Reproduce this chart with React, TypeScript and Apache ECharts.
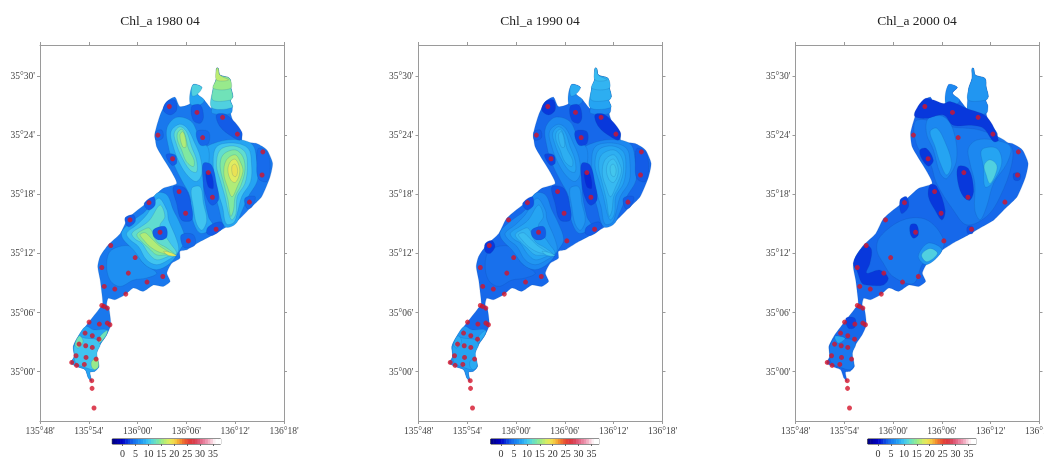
import React, { useEffect, useRef } from "react";
import * as echarts from "echarts";

// Axis units: x = arc-minutes east of 135°48', y = arc-minutes north of 35°00'.
type P = [number, number];
const titles = ["Chl_a 1980 04", "Chl_a 1990 04", "Chl_a 2000 04"];
const yTicks = [0, 6, 12, 18, 24, 30];
const barTicks = [0, 5, 10, 15, 20, 25, 30, 35];
const barCells = [-4,-3,-2,-1,0,1,2,3,4,5,6,7,8,9,10,11,12,13,14,15,16,17,18,19,20,21,22,23,24,25,26,27,28,29,30,31,32,33,34,35,36,37];
const scaleValues = [-4, 0, 2, 4, 6, 8, 10, 12, 14, 16, 18, 20, 22, 24, 26, 28, 30, 33, 36, 38];
const scaleColors = ["#00007f", "#0000c8", "#0838dc", "#1668ea", "#1c88f0", "#25a4f2", "#40c4f0", "#60dcd0", "#80e8a0", "#b0ec78", "#e0ec60", "#f4d848", "#f4a030", "#ec6030", "#e03838", "#d84050", "#e06080", "#f0a0b8", "#ffffff", "#ffffff"];

const stations: P[] = [[15.9,26.9],[19.3,26.3],[22.45,25.8],[24.27,24.1],[20,23.75],[14.5,24],[16.3,21.6],[27.4,22.3],[27.3,19.95],[20.7,20.2],[21.2,17.7],[17.1,18.27],[13.4,17.15],[17.9,16.07],[25.75,17.2],[11.07,15.4],[14.76,14.15],[21.65,14.45],[18.24,13.27],[8.7,12.8],[11.7,11.58],[7.6,10.57],[10.86,10],[15.1,9.66],[13.16,9.09],[7.9,8.65],[9.2,8.38],[10.55,7.87],[7.6,6.72],[7.87,6.62],[8.28,6.45],[6.03,5.03],[7.3,4.83],[8.28,4.93],[8.6,4.76],[5.54,3.92],[6.43,3.65],[7.26,3.3],[4.8,2.8],[5.62,2.63],[6.43,2.46],[4.43,1.62],[5.66,1.45],[6.9,1.28],[3.9,0.94],[4.5,0.64],[5.45,0.74],[6.36,-0.91],[6.4,-1.69],[6.64,-3.68]];

const OUTLINE: P[] = [[21.9,30.77],[22.1,30.1],[23.3,29.75],[23.45,28.85],[23.7,27.9],[23.4,27.55],[23.65,26.95],[23.45,26.2],[23.8,25.35],[24.8,24.2],[24.9,23.35],[26.65,23.15],[27.9,22.5],[28.6,21.15],[28.3,19.8],[27.25,17.75],[25.85,16.6],[24.4,15.4],[22.95,14.7],[21.3,13.9],[19.7,13.2],[19.05,12.87],[18.05,12.36],[17.2,12.2],[17.2,11.5],[16.2,11],[15.6,10],[16,9.15],[15.15,8.65],[13.95,8.8],[12.7,8.15],[11.5,8.5],[10.45,7.8],[9.2,7.3],[8.4,7.45],[8.2,6.8],[8.5,6.3],[8.7,4.75],[8.2,3.75],[7.4,2.75],[6.9,1.7],[7.25,0.55],[6.75,0.05],[6.15,-0.05],[6.35,-0.98],[5.95,-0.65],[5.55,0.2],[4.7,0.48],[3.8,0.88],[4.2,1.55],[4.1,2.56],[4.7,3.58],[5.75,4.76],[7.2,6.28],[7.7,6.9],[7.6,7.97],[7.4,9.3],[7.1,10.67],[7.4,11.7],[8.4,12.87],[9.85,14],[10.85,15.57],[13.3,17.25],[15.15,18.6],[16.8,19.1],[16,20.5],[14.35,22.8],[14.15,24.2],[14.75,26],[15.6,27.4],[16.6,27.85],[17.2,26.9],[18.45,27.2],[18.8,29.1],[19.9,28.85],[19.3,28.25],[20.2,27.55],[21.1,26.7],[21.3,28.75],[21.7,29.75],[21.7,30.77]];

const rings: Record<string, P[]> = {
  B8: [[21.3,23.15],[23.8,23.55],[26.05,23.1],[26.65,21.45],[26.75,19.45],[25.6,17.75],[24.7,16.05],[24,14.95],[22.75,14.7],[21.95,16.7],[21.3,18.75],[20.7,20.8],[20.2,22.5]],
  B10: [[21.7,22.8],[23.8,23.2],[25.6,22.65],[26,21.15],[25.9,19.3],[24.8,17.75],[24.25,16.05],[23.8,15.1],[22.9,15],[22.45,16.7],[21.7,18.75],[21.3,20.8]],
  B12: [[22.15,22.5],[23.8,22.9],[25.2,22.3],[25.5,20.8],[25.2,19.1],[24.25,17.75],[24.1,16.05],[23.6,15.4],[23.2,16.05],[22.75,17.75],[22.15,19.45],[21.7,20.95]],
  B14: [[22.5,22],[24,22.5],[24.95,21.8],[25.2,20.45],[24.7,18.9],[24,17.75],[23.8,16.4],[23.45,15.75],[23.1,17.45],[22.6,19.1],[22.15,20.8]],
  B16: [[22.9,21.45],[24,22],[24.7,21.15],[24.95,20.3],[24.25,18.75],[23.6,17.75],[23.05,18.75],[22.6,20.1]],
  B18: [[23.4,21.3],[24,21.55],[24.5,20.8],[24.5,19.95],[24,19.2],[23.45,19.45],[23.1,20.45]],
  B19: [[23.6,20.85],[24,21.05],[24.3,20.45],[24.1,19.8],[23.7,19.95]],
  A8: [[15.6,24.7],[16.8,25.8],[18.65,25.35],[19.7,23.5],[20.7,22.65],[20.7,20.8],[20.1,18.75],[20.7,15.75],[21.3,14.7],[19.7,14.05],[18.65,15.75],[18.45,17.75],[17.4,19.45],[16.4,21.15],[15.8,22.8]],
  A10: [[16.1,24.35],[17.15,25.1],[18.1,24.7],[19.05,23.15],[19.7,21.8],[19.9,20.1],[19.25,19.3],[18.25,19.8],[17.2,21.1],[16.4,22.8]],
  A12: [[16.5,24.2],[17.2,24.85],[18,24.35],[18.65,22.8],[19.25,21.45],[19.25,20.25],[18.45,20.45],[17.4,21.8],[16.75,23.15]],
  A14: [[16.9,24.2],[17.45,24.6],[17.85,24],[18.25,22.65],[18.95,21.45],[18.85,20.8],[18,21.3],[17.4,22.5],[16.95,23.35]],
  A16: [[17.2,24],[17.55,24.35],[17.85,23.8],[17.95,22.8],[17.55,22.8]],
  R10: [[18.65,18.6],[19.7,18.75],[20.1,17.05],[20.5,15.35],[19.9,14.35],[19.25,15],[18.85,16.7]],
  C8: [[10.05,14.2],[11.3,15.25],[13.1,16.4],[14.35,18.1],[15.6,17.95],[16.4,16.4],[17.2,15.05],[17.85,13.4],[17.2,12.35],[16,11],[14.35,10.35],[12.9,10.85],[11.5,12.35],[10.25,13.4]],
  C10: [[10.65,14.05],[11.9,14.9],[13.1,15.9],[14.55,17.6],[15.6,16.4],[15.8,15.4],[16.8,13.4],[17,12.2],[15.8,11.35],[14.35,10.85],[13.1,11.35],[12.1,12.7],[11.05,13.4]],
  C12: [[11.3,14.05],[12.5,14.75],[13.5,15.4],[14.75,16.9],[15.35,15.75],[14.75,14.75],[16,13.05],[16.8,12],[15.8,11.7],[14.35,11.35],[13.35,12],[12.5,13.05],[11.7,13.45]],
  C14: [[11.9,13.9],[12.7,14.4],[13.5,14.55],[14.35,13.2],[15.6,12.55],[16.6,11.85],[15.6,11.85],[14.35,11.85],[13.35,12.55],[12.5,13.2]],
  C16: [[12.3,13.9],[12.9,14.1],[13.5,13.7],[14.55,12.85],[16,12],[14.75,12.1],[13.5,12.7],[12.7,13.4]],
  C18: [[15.2,12.2],[16,12.1],[16.8,11.75],[15.8,11.8]],
  W8: [[8.8,12.35],[11.25,12.7],[12.7,11],[14.35,10],[13.1,9.5],[11.5,9.3],[9.85,8.65],[8.6,9.3],[8.2,11]],
  N8: [[21.1,26.7],[21.3,28.75],[21.7,29.75],[21.7,30.77],[21.9,30.77],[22.1,30.1],[23.3,29.75],[23.45,28.85],[23.7,27.9],[23.4,27.55],[23.65,26.95],[23.45,26.2],[21.2,26.2]],
  N11: [[21.1,26.8],[21.3,28.75],[21.7,29.75],[21.7,30.77],[21.9,30.77],[22.1,30.1],[23.3,29.75],[23.45,28.85],[23.7,27.9],[23.4,27.55],[23.65,26.8]],
  N13: [[21.25,27.55],[21.3,28.75],[21.7,29.75],[21.7,30.77],[21.9,30.77],[22.1,30.1],[23.3,29.75],[23.45,28.85],[23.7,27.9],[23.4,27.55]],
  N15: [[21.3,28.75],[21.7,29.75],[21.7,30.77],[21.9,30.77],[22.1,30.1],[23.3,29.75],[23.45,28.75]],
  N16: [[21.7,29.6],[21.7,30.77],[21.9,30.77],[22.1,30.1],[23.2,29.6]],
  Arm8: [[18.45,27.2],[18.8,29.1],[19.9,28.85],[19.3,28.25],[20.2,27.55],[19.5,27]],
  Arm11: [[18.7,28],[18.8,29.1],[19.9,28.85],[19.3,28.1]],
  S8: [[4.2,1.55],[4.1,2.57],[4.7,3.6],[5.65,4.6],[6.55,4.26],[8.2,4.26],[8.2,3.75],[7.4,2.75],[6.9,1.73],[7.25,0.55],[6.75,0.05],[6.15,-0.06],[6.35,-0.98],[5.95,-0.64],[5.55,0.2],[4.7,0.48],[3.8,0.88]],
  S10: [[4.2,1.9],[4.2,2.57],[4.85,3.5],[5.55,3.4],[7,3.25],[7.4,2.75],[7,1.9],[7.2,0.6],[6.7,0.2],[5.75,0.37],[4.7,0.7],[4.3,1.05]],
  S13a: [[4.3,2.75],[4.85,3.65],[5.3,3.07],[4.7,2.4]],
  S13b: [[7.4,3.6],[8.3,4.2],[8.1,3.65],[7.3,2.9]],
  S14c: [[6.35,1.05],[7,1.4],[7.2,0.55],[6.75,0.2],[6.35,0.48]],
  Lo1: [[15.15,26.55],[15.6,27.4],[16.6,27.55],[16.8,26.55],[16,26.05]],
  Lo2: [[18.65,26.9],[19.7,27.05],[20.1,25.85],[19.7,25.2],[18.85,25.5]],
  Lo3: [[21.7,26.05],[22.95,26.05],[24.8,24.35],[24.6,23.5],[23.6,23.85],[22.15,24.85]],
  Lo4: [[19.25,24.35],[20.7,24.35],[20.7,23.15],[19.7,23]],
  Lo5: [[14.2,24.35],[15,24.5],[15.1,23.7],[14.25,23.5]],
  Lo6: [[15.5,22],[16.6,22],[16.8,21.15],[16.2,20.95]],
  Lo7: [[20.1,21.15],[21.1,20.95],[21.7,19.1],[21.95,17.45],[21.1,16.9],[20.3,18.1],[20,19.8]],
  Lo7b: [[20.4,20.3],[21.05,20.1],[21.3,18.6],[20.7,18.75]],
  Lo8: [[26.85,22.65],[27.9,22.3],[28.3,20.8],[27.9,19.3],[26.85,19.6],[26.65,21.15]],
  Lo9: [[25.2,17.6],[26.45,17.75],[26.05,16.7],[25.45,16.55]],
  Lo10: [[16.4,18.75],[17.85,18.6],[18.65,16.7],[18.65,15.4],[17.4,15.4],[16.8,17.05]],
  Lo11: [[12.8,17.05],[13.95,17.75],[14.15,16.9],[13.35,16.4]],
  Lo12: [[10.45,15.6],[11.5,15.9],[11.7,15.2],[10.85,14.7]],
  Lo13: [[13.95,14.4],[15.4,14.7],[15.6,13.7],[14.75,13.35],[14,13.7]],
  Lo14: [[20.7,14.7],[22.15,15.2],[22.55,14.7],[21.3,13.85],[20.5,14.05]],
  Lo15: [[17.4,13.9],[18.85,13.9],[19.05,12.85],[17.85,12.55],[17.4,13.05]],
  Lo16: [[8.2,13],[9,13.3],[9.4,12.7],[8.8,12],[8.2,12.2]],
  D: [[14.7,26.4],[15.9,27.7],[17,27.55],[18.2,27.2],[19,27.4],[21.05,26.7],[23.5,25.85],[24.95,23.5],[24.35,23.35],[23.1,24.7],[21.45,25],[19.4,25],[18.2,26.05],[16.1,25.7],[14.7,25.85]],
  E1: [[15.3,22.5],[16.1,22.65],[16.95,21.45],[16.35,20.85],[15.5,21.65]],
  E2: [[20,20.8],[21.25,20.6],[21.9,18.45],[21.45,17.4],[20.65,17.75],[20,19.1]],
  E3: [[16.55,18.95],[17.35,18.8],[18.4,16.4],[18,15.4],[17.15,16.4],[16.35,17.75]],
  E4: [[12.85,17.4],[13.65,17.75],[13.9,16.75],[13.05,16.05]],
  E5: [[14.15,14.9],[14.9,14.9],[15.1,13.9],[14.5,13.55],[14.1,14.05]],
  E6: [[26.8,20.1],[27.6,20.1],[27.55,19.45],[26.9,19.45]],
  E7: [[21.15,14.7],[21.8,14.7],[21.8,14.05],[21.15,14.05]],
  SWd: [[7.1,11],[7.95,12.35],[8.75,12.85],[9.35,12.35],[9.15,11],[8.75,10],[10.4,10.3],[11.4,9.5],[10.8,8.8],[8.75,8.8],[8.15,9],[7.6,10.15]],
  F6: [[16.35,25.7],[18.2,25.87],[19.4,24.5],[19.8,21.5],[18.6,19.6],[17.8,20.1],[16.95,22.5],[16.1,24.2]],
  F8: [[16.55,24.35],[17.35,24.7],[18.2,23.65],[19.2,21.15],[18.6,19.95],[17.8,21.15],[17.15,22.85]],
  G5: [[14.9,25.5],[19.4,24.8],[22.7,24.5],[26.4,23],[26.6,21.1],[25.15,17.75],[23.5,15.75],[21.05,14.9],[19.4,16.4],[17.35,19.1],[16.55,21.15],[14.9,23]],
  G6: [[21.25,22.65],[22.3,23.5],[24.35,23.5],[26.4,22.85],[26,21.15],[24.35,19.1],[23.5,16.75],[22.7,15.4],[22.05,16.4],[22.05,19.1],[21.45,21.15]],
  G8: [[22.9,22.5],[24.75,22.65],[25.35,21.15],[24.15,19.1],[23.3,18.75],[23.1,20.8]],
  G11: [[23.2,20.95],[23.9,21.5],[24.75,20.95],[24.55,19.95],[23.9,19.1],[23.45,19.95]],
  H5: [[10.4,13.7],[13.25,15.4],[16.15,15.4],[18.2,13.4],[17.8,12],[15.7,11],[14.5,8.95],[12,9.65],[10.8,11],[10,12.35]],
  H7: [[15.1,11.7],[16.35,13.05],[18,12.35],[16.15,10.85]],
  H11: [[15.5,11.85],[16.55,12.5],[17.45,12],[16.15,11.15]],
  SDk: [[6.2,5.43],[7.3,5.43],[7.3,4.52],[6.5,4.42]],
  SLt: [[4.85,3.6],[6.1,3.4],[5.25,2.9]],
};

type L = [string, number];
const levels1980: L[] = [["W8",6.5],["B8",8],["A8",8],["C8",8],["B10",10],["A10",10],["R10",10],["C10",10],["B12",12],["A12",12],["C12",12],["B14",14],["A14",14],["C14",14],["B16",16],["A16",16],["C16",16],["B18",18],["C18",18],["B19",19],["N8",7],["N11",11],["N13",13],["N15",15],["N16",16.5],["Arm8",8],["Arm11",11],["S8",8],["S10",10],["S13a",13],["S13b",13],["S14c",15],["Lo1",3.5],["Lo2",3.5],["Lo3",3.5],["Lo4",4],["Lo5",4],["Lo6",3.5],["Lo7",3.5],["Lo7b",2],["Lo8",4.2],["Lo9",4],["Lo10",3.5],["Lo11",3.5],["Lo12",3.5],["Lo13",3.5],["Lo14",3.5],["Lo15",4]];
const levels1990: L[] = [["W8",4.5],["B8",6],["A8",6],["C8",6],["B10",7],["A10",7],["R10",7],["C10",7],["B12",8],["A12",8],["C12",8],["B14",8.7],["A14",8.6],["C14",9],["B16",9.3],["A16",9],["C16",9.5],["B18",9.8],["C18",10],["B19",10.2],["N8",6],["N11",8],["N13",8.6],["N15",9],["N16",9.5],["Arm8",6],["Arm11",8.5],["S8",7],["S10",8],["S13a",8.4],["S13b",8.4],["S14c",8.4],["Lo1",2],["Lo2",2.5],["Lo3",2],["Lo4",2.5],["Lo5",3.5],["Lo6",2.5],["Lo7",2.5],["Lo7b",1.5],["Lo8",3.5],["Lo9",3.5],["Lo10",3],["Lo11",3],["Lo13",3.5],["Lo14",3.5],["Lo16",2]];
const levels2000: L[] = [["G5",5],["H5",5],["F6",6],["F8",8],["G6",6],["G8",8],["G11",11],["H7",7],["H11",11],["N8",6],["N13",7],["Arm8",6],["S10",5],["SLt",8],["D",2],["E1",2],["E2",2],["E3",2],["E4",2.5],["E5",2],["E6",3],["E7",3],["SWd",2],["SDk",2.5]];
const panelLevels = [levels1980, levels1990, levels2000];
const baseValues = [5, 4, 4];

const colorOf = (v: number): string => {
  for (let i = 1; i < scaleValues.length; i++) {
    if (v <= scaleValues[i]) {
      const t = (v - scaleValues[i - 1]) / (scaleValues[i] - scaleValues[i - 1]);
      return echarts.color.lerp(t, [scaleColors[i - 1], scaleColors[i]]) as string;
    }
  }
  return scaleColors[scaleColors.length - 1];
};
const lonLabel = (v: number) => {
  const t = 135 * 60 + 48 + v;
  return `${Math.floor(t / 60)}°${String(t % 60).padStart(2, "0")}'`;
};
const latLabel = (v: number) => `35°${String(v).padStart(2, "0")}'`;

const panelLeft = [40, 418.5, 795.5];
const titleX = [160, 540, 917];
const FONT = "'Liberation Serif', 'Times New Roman', serif";
const AX = "#9a9a9a";

const buildOption = () => {
  const grid: any[] = [], xAxis: any[] = [], yAxis: any[] = [], series: any[] = [], title: any[] = [], graphic: any[] = [];
  panelLeft.forEach((left, i) => {
    graphic.push({ type: "text", x: titleX[i], y: 20, silent: true, style: { text: titles[i], x: 0, y: 0, align: "center", verticalAlign: "middle", fontFamily: FONT, fontSize: 13.5, fill: "#222" } });
    grid.push({ left, top: 45, width: 244, height: 376, outerBoundsMode: "none" });
    const g = grid.length - 1;
    const line = { lineStyle: { color: AX, width: 1 } };
    const tick = { length: 3, lineStyle: { color: AX, width: 1 } };
    const xBase = { type: "value", gridIndex: g, min: 0, max: 30, interval: 6, splitLine: { show: false }, axisLine: { show: true, onZero: false, ...line } };
    const yBase = { type: "value", gridIndex: g, min: -5, max: 33.14, splitLine: { show: false }, axisLine: { show: true, onZero: false, ...line } };
    const xi = xAxis.length, yi = yAxis.length;
    xAxis.push({ ...xBase, position: "bottom", axisTick: { show: true, ...tick }, axisLabel: { show: true, margin: 5, showMinLabel: true, showMaxLabel: true, hideOverlap: false, formatter: lonLabel, fontFamily: FONT, fontSize: 9.5, color: "#444" } });
    xAxis.push({ ...xBase, position: "top", axisTick: { show: true, ...tick }, axisLabel: { show: false } });
    yAxis.push({ ...yBase, position: "left", axisTick: { show: true, customValues: yTicks, ...tick }, axisLabel: { show: true, customValues: yTicks, margin: 5, formatter: latLabel, fontFamily: FONT, fontSize: 9.5, color: "#444" } });
    yAxis.push({ ...yBase, position: "right", axisTick: { show: true, customValues: yTicks, ...tick }, axisLabel: { show: false } });

    const items = [["OUTLINE", baseValues[i]] as L, ...panelLevels[i]];
    const pts = items.map(([n]) => (n === "OUTLINE" ? OUTLINE : rings[n]));
    series.push({
      type: "custom", xAxisIndex: xi, yAxisIndex: yi, clip: false, silent: true, z: 2,
      data: items.map(([n, v], k) => ({ name: n, value: [pts[k][0][0], pts[k][0][1], v] })),
      renderItem: (p: any, api: any) => {
        const idx = p.dataIndex;
        const smooth = items[idx][0] === "OUTLINE" ? 0.2 : 0.35;
        return {
          type: "polygon",
          shape: { points: pts[idx].map((q) => api.coord(q)), smooth },
          style: { fill: colorOf(items[idx][1]), stroke: "rgba(10,70,150,0.32)", lineWidth: 0.5 },
        };
      },
    });
    series.push({ type: "scatter", xAxisIndex: xi, yAxisIndex: yi, z: 5, silent: true, symbolSize: 5, itemStyle: { color: "#d4142a" }, data: stations });

    // colour bar
    grid.push({ left: left + 72.3, top: 439, width: 108.4, height: 5, show: true, borderColor: "#222", borderWidth: 1, backgroundColor: "transparent", outerBoundsMode: "none" });
    const gb = grid.length - 1, bx = xAxis.length, by = yAxis.length;
    xAxis.push({ type: "value", gridIndex: gb, min: -4, max: 38, position: "bottom", splitLine: { show: false }, axisLine: { show: false },
      axisTick: { show: true, customValues: barTicks, length: 2, lineStyle: { color: "#666" } },
      axisLabel: { show: true, customValues: barTicks, margin: 4, fontFamily: FONT, fontSize: 10, color: "#333" } });
    yAxis.push({ type: "value", gridIndex: gb, min: 0, max: 1, show: false });
    series.push({
      type: "custom", xAxisIndex: bx, yAxisIndex: by, silent: true, clip: false, z: 1,
      data: barCells.map((v) => [v, 0]),
      renderItem: (p: any, api: any) => {
        const v = barCells[p.dataIndex];
        const a = api.coord([v, 1]), b = api.coord([v + 1, 0]);
        return { type: "rect", shape: { x: a[0], y: a[1], width: b[0] - a[0] + 0.5, height: b[1] - a[1] }, style: { fill: colorOf(v + 0.5) } };
      },
    });
  });
  return { animation: false, backgroundColor: "#fff", graphic, grid, xAxis, yAxis, series };
};

export default function App() {
  const ref = useRef<HTMLDivElement>(null);
  useEffect(() => {
    document.body.style.margin = "0";
    const chart = echarts.init(ref.current!, undefined, { renderer: "svg" });
    chart.setOption(buildOption());
    return () => chart.dispose();
  }, []);
  return <div ref={ref} style={{ position: "absolute", left: 0, top: 0, width: 1044, height: 459, filter: "blur(0.4px)" }} />;
}
